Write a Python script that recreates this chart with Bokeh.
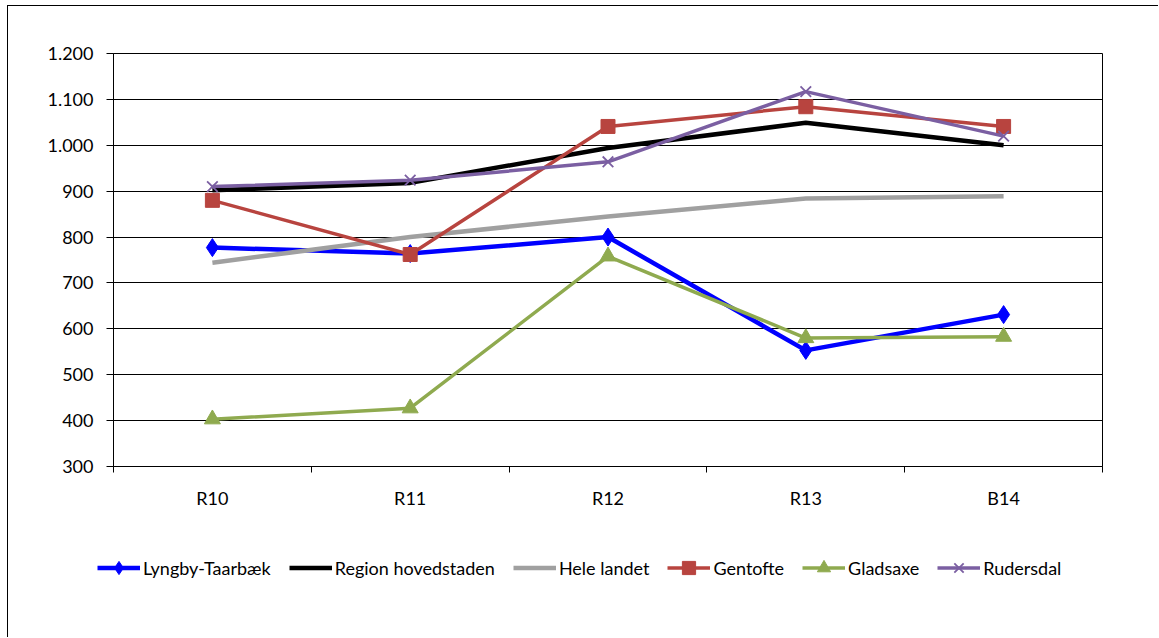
from bokeh.plotting import figure
from bokeh.models import FixedTicker, Legend, LegendItem, Range1d
from bokeh.embed import file_html
from bokeh.resources import INLINE

categories = ["R10", "R11", "R12", "R13", "B14"]
lyngby = [777, 764, 800, 553, 631]
region = [902, 918, 994, 1049, 1000]
hele = [744, 800, 845, 884, 889]
gentofte = [880, 762, 1041, 1084, 1041]
gladsaxe = [403, 427, 758, 580, 583]
rudersdal = [910, 924, 964, 1117, 1020]
y_ticks = [300, 400, 500, 600, 700, 800, 900, 1000, 1100, 1200]
y_tick_labels = ["300", "400", "500", "600", "700", "800", "900", "1.000", "1.100", "1.200"]

series_names = ["Lyngby-Taarbæk", "Region hovedstaden", "Hele landet", "Gentofte", "Gladsaxe", "Rudersdal"]
series_values = [lyngby, region, hele, gentofte, gladsaxe, rudersdal]
series_colors = ["#0000FF", "#000000", "#A0A0A0", "#B8443F", "#8FAA4F", "#7B5FA2"]
series_markers = ["diamond", None, None, "square", "triangle", "x"]
series_widths = [4.5, 4.5, 4.5, 3.5, 3.5, 3.5]
marker_sizes = {"diamond": 18, "square": 14, "triangle": 16, "x": 15}

FONT = "Lato"
xs = list(range(len(categories)))

p = figure(width=1151, height=520, output_backend="svg", toolbar_location=None,
           x_range=Range1d(-0.5, len(categories) - 0.5), y_range=Range1d(300, 1200),
           min_border_left=105, min_border_right=57, min_border_top=47, min_border_bottom=60)
p.styles = {"border-left": "1px solid black", "border-top": "1px solid black",
            "margin-left": "7px", "margin-top": "5px"}
p.background_fill_color = "white"
p.border_fill_color = "white"
p.outline_line_color = "black"
p.outline_line_width = 1

p.xgrid.grid_line_color = None
p.ygrid.grid_line_color = "black"
p.ygrid.grid_line_width = 1
p.ygrid.ticker = FixedTicker(ticks=y_ticks)

p.yaxis.ticker = FixedTicker(ticks=y_ticks)
p.yaxis.major_label_overrides = {t: l for t, l in zip(y_ticks, y_tick_labels)}
p.xaxis.ticker = FixedTicker(ticks=xs, minor_ticks=[i - 0.5 for i in range(len(categories) + 1)])
p.xaxis.major_label_overrides = {i: c for i, c in enumerate(categories)}

for ax in (p.xaxis[0], p.yaxis[0]):
    ax.axis_line_color = "black"
    ax.axis_line_width = 1
    ax.major_tick_line_color = "black"
    ax.minor_tick_line_color = "black"
    ax.major_label_text_font = FONT
    ax.major_label_text_font_size = "18px"
    ax.major_label_text_color = "black"
    ax.major_tick_in = 0
    ax.minor_tick_in = 0

p.yaxis.major_tick_out = 7
p.yaxis.minor_tick_out = 0
p.yaxis.major_label_standoff = 13
p.xaxis.major_tick_out = 0
p.xaxis.minor_tick_out = 6
p.xaxis.major_label_standoff = 14

# legend strip below the chart (its series are drawn outside its visible range)
p2 = figure(width=1151, height=112, output_backend="svg", toolbar_location=None,
            x_range=Range1d(100, 101), y_range=Range1d(0, 1),
            min_border_left=0, min_border_right=0, min_border_top=0, min_border_bottom=0)
p2.styles = {"border-left": "1px solid black", "margin-left": "7px"}
p2.axis.visible = False
p2.grid.grid_line_color = None
p2.outline_line_color = None
p2.background_fill_color = "white"
p2.border_fill_color = "white"

items = []
for name, vals, col, mk, lw in zip(series_names, series_values, series_colors, series_markers, series_widths):
    p.line(xs, vals, line_color=col, line_width=lw)
    rs = [p2.line(xs, vals, line_color=col, line_width=lw)]
    if mk is not None:
        if mk == "x":
            p.scatter(xs, vals, marker=mk, size=marker_sizes[mk], line_color=col, line_width=1.8)
            rs.append(p2.scatter(xs, vals, marker=mk, size=marker_sizes[mk], line_color=col, line_width=1.8))
        else:
            p.scatter(xs, vals, marker=mk, size=marker_sizes[mk], fill_color=col, line_color=col)
            rs.append(p2.scatter(xs, vals, marker=mk, size=marker_sizes[mk], fill_color=col, line_color=col))
    items.append(LegendItem(label=name, renderers=rs))

legend = Legend(items=items, orientation="horizontal", location=(89, 53),
                padding=0, margin=0, spacing=18, label_standoff=3,
                glyph_width=43, glyph_height=33, label_height=20,
                border_line_color=None, background_fill_alpha=0,
                label_text_font=FONT, label_text_font_size="18px", label_text_color="black")
p2.add_layout(legend, "center")

open("out.html", "w").write(file_html([p, p2], INLINE))
